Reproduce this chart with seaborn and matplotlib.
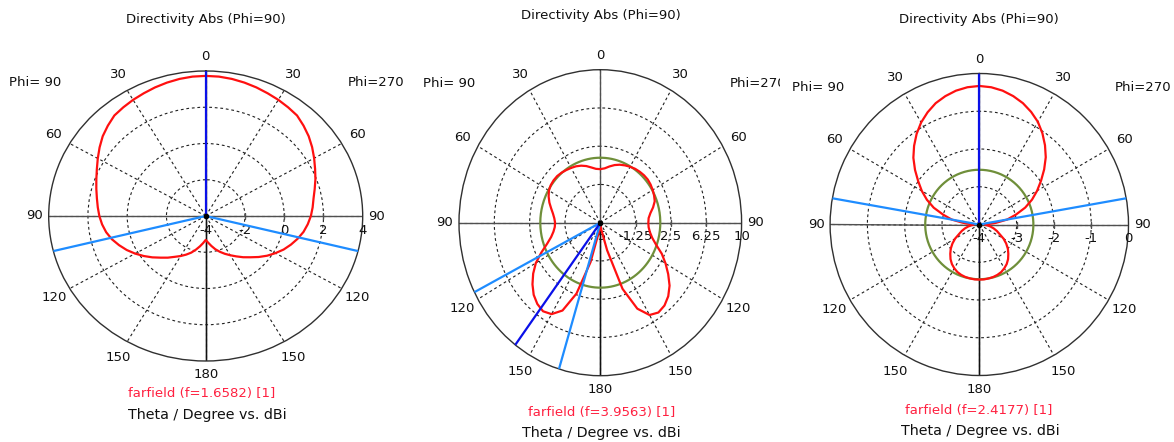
import numpy as np
import pandas as pd
import matplotlib
matplotlib.use("Agg")
import matplotlib.pyplot as plt
from matplotlib.transforms import offset_copy
import seaborn as sns

# ---------------------------------------------------------------- data
# Theta cut (Phi=90 on the left half, Phi=270 on the right half), dBi
theta_deg = np.arange(0, 181, 5)

f1_phi90 = [3.73, 3.72, 3.68, 3.62, 3.55, 3.47, 3.40, 3.32, 3.24, 3.05,
            2.85, 2.60, 2.35, 2.12, 1.93, 1.77, 1.63, 1.52, 1.42, 1.30,
            1.15, 0.95, 0.70, 0.44, 0.15, -0.15, -0.45, -0.75, -1.00, -1.25,
            -1.45, -1.65, -1.85, -2.08, -2.30, -2.50, -2.68]
f1_phi270 = [3.73, 3.72, 3.68, 3.62, 3.55, 3.47, 3.40, 3.32, 3.24, 3.05,
             2.85, 2.62, 2.38, 2.15, 1.95, 1.75, 1.58, 1.47, 1.36, 1.22,
             1.06, 0.85, 0.62, 0.38, 0.10, -0.18, -0.48, -0.78, -1.03, -1.28,
             -1.50, -1.70, -1.90, -2.10, -2.32, -2.52, -2.68]

f2_phi90 = [0.25, 0.30, 0.50, 0.75, 0.95, 1.10, 1.20, 1.30, 1.40, 1.47,
            1.47, 1.42, 1.30, 1.05, 0.75, 0.40, 0.10, -0.10, -0.20, -0.15,
            0.05, 0.40, 1.00, 1.90, 2.90, 3.70, 4.40, 5.00, 5.40, 5.60,
            5.35, 4.50, 2.40, -1.00, -4.00, -4.60, -4.70]
f2_phi270 = [0.25, 0.35, 0.60, 0.85, 1.05, 1.20, 1.33, 1.45, 1.52, 1.57,
             1.58, 1.52, 1.42, 1.30, 1.15, 0.80, 0.40, 0.15, 0.10, 0.15,
             0.35, 0.70, 1.30, 2.20, 3.00, 3.80, 4.60, 5.20, 5.60, 5.75,
             5.45, 4.30, 1.90, -2.20, -4.20, -4.60, -4.70]

f3_phi90 = [-0.33, -0.35, -0.40, -0.48, -0.58, -0.72, -0.88, -1.07, -1.28, -1.50,
            -1.75, -2.00, -2.22, -2.45, -2.70, -3.00, -3.25, -3.60, -3.85, -3.80,
            -3.70, -3.60, -3.50, -3.40, -3.25, -3.12, -3.00, -2.90, -2.80, -2.72,
            -2.66, -2.61, -2.58, -2.56, -2.55, -2.54, -2.54]
f3_phi270 = [-0.33, -0.35, -0.40, -0.48, -0.58, -0.71, -0.86, -1.05, -1.26, -1.48,
             -1.73, -1.98, -2.21, -2.44, -2.69, -2.98, -3.24, -3.58, -3.85, -3.80,
             -3.70, -3.60, -3.50, -3.40, -3.25, -3.12, -3.00, -2.90, -2.80, -2.72,
             -2.66, -2.61, -2.58, -2.56, -2.55, -2.54, -2.54]

frequencies = ["1.6582", "3.9563", "2.4177"]

radial_ticks = [[-4, -2, 0, 2, 4],
                [-5, -1.25, 2.5, 6.25, 10],
                [-4, -3, -2, -1, 0]]
radial_labels = [["-4", "-2", "0", "2", "4"],
                 ["-5", "-1.25", "2.5", "6.25", "10"],
                 ["-4", "-3", "-2", "-1", "0"]]

# main lobe direction and 3 dB angular width edges (theta, side)
main_lobe = [(0, "phi90"), (143, "phi90"), (0, "phi90")]
width_edges = [[(104, "phi90"), (104, "phi270")],
               [(117, "phi90"), (163, "phi90")],
               [(80, "phi90"), (80, "phi270")]]
# side lobe level circle (None where absent)
side_lobe_level = [None, 1.37, -2.55]

angle_ticks = np.arange(0, 360, 30)
angle_labels = [str(a if a <= 180 else 360 - a) for a in angle_ticks]

# ---------------------------------------------------------------- layout
W, H = 1174, 442
panels = [
    dict(curves=(f1_phi90, f1_phi270), center=(205.7, 216.0), rx=157.0, ry=145.0,
         region=(0, 410), title=(206, 20), phi90=(9, 83), phi270=(348, 83),
         ff=(202, 394), axis_txt=(207, 415)),
    dict(curves=(f2_phi90, f2_phi270), center=(600.3, 222.7), rx=141.3, ry=153.0,
         region=(400, 780), title=(600.5, 15.5), phi90=(422.7, 83.3), phi270=(730, 83.3),
         ff=(601.3, 412.3), axis_txt=(601.7, 432.7)),
    dict(curves=(f3_phi90, f3_phi270), center=(979.3, 224.5), rx=149.2, ry=151.0,
         region=(780, 1174), title=(979.2, 20), phi90=(791.7, 87.3), phi270=(1115, 87.3),
         ff=(978.3, 410.7), axis_txt=(980, 431)),
]

RED = "#ff1010"
DARK_BLUE = "#0a10e8"
LIGHT_BLUE = "#1e8cff"
GREEN = "#6f8f3a"
GRID = "#202020"
AXIS = "#505050"
TXT = "#101010"
FS = 9.5
FS_AXIS = 10.3

sns.set_theme(style="white")
plt.rcParams["font.family"] = ["DejaVu Sans"]

fig = plt.figure(figsize=(W / 100, H / 100), dpi=100)
fig.patch.set_facecolor("white")


def side_angle(theta, side):
    """Map a theta angle on one half of the cut to the polar axis angle."""
    return np.deg2rad(theta if side == "phi90" else 360 - theta)


for i, p in enumerate(panels):
    # text frame in pixel coordinates, clipped to the panel's strip
    x0, x1 = p["region"]
    fa = fig.add_axes([x0 / W, 0, (x1 - x0) / W, 1])
    fa.set_xlim(x0, x1)
    fa.set_ylim(H, 0)
    fa.axis("off")
    fa.text(*p["title"], "Directivity Abs (Phi=90)", ha="center", va="center",
            fontsize=FS, color=TXT, clip_on=True)
    fa.text(*p["phi90"], "Phi= 90", ha="left", va="center", fontsize=FS,
            color=TXT, clip_on=True)
    fa.text(*p["phi270"], "Phi=270", ha="left", va="center", fontsize=FS,
            color=TXT, clip_on=True)
    fa.text(*p["ff"], f"farfield (f={frequencies[i]}) [1]", ha="center",
            va="center", fontsize=FS, color="#ff2040", clip_on=True)
    fa.text(*p["axis_txt"], "Theta / Degree vs. dBi", ha="center", va="center",
            fontsize=FS_AXIS, color=TXT, clip_on=True)

    # polar axes stretched to the ellipse of the original plot window
    cx, cy = p["center"]
    rx, ry = p["rx"], p["ry"]
    rect = [(cx - rx) / W, (H - cy - ry) / H, 2 * rx / W, 2 * ry / H]
    ax = fig.add_axes(rect, projection="polar")
    ax.set_aspect("auto")
    ax.set_theta_zero_location("N")
    ax.set_theta_direction(1)
    ticks = radial_ticks[i]
    rmin, rmax = ticks[0], ticks[-1]
    ax.set_rlim(rmin, rmax)
    ax.patch.set_alpha(0)

    ax.set_xticks(np.deg2rad(angle_ticks))
    ax.set_xticklabels([])
    ax.set_yticks(ticks[1:-1])
    ax.set_yticklabels([])
    ax.grid(True, color=GRID, lw=0.8, ls=(0, (2.5, 2.5)))
    ax.spines["polar"].set_color("#303030")
    ax.spines["polar"].set_linewidth(1.0)

    # solid axis cross
    for a in (0, 90, 180, 270):
        ax.plot([np.deg2rad(a)] * 2, [rmin, rmax], color=AXIS, lw=1.0, zorder=2)
    ax.plot([np.deg2rad(180)] * 2, [rmin, rmax], color="#111111", lw=1.0, zorder=2)

    # tick marks and values along the right horizontal axis
    ax.plot(np.full(len(ticks) - 2, np.deg2rad(270)), ticks[1:-1], ls="none",
            marker="|", ms=5, mew=1.0, color=AXIS, zorder=3)
    for r, lab in zip(ticks, radial_labels[i]):
        tr = offset_copy(ax.transData, fig=fig, x=0, y=-14, units="dots")
        ax.text(np.deg2rad(270), r, lab, transform=tr, ha="center", va="center",
                fontsize=FS, color=TXT, zorder=3)

    # angle labels around the circle
    for a, lab in zip(angle_ticks, angle_labels):
        ar = np.deg2rad(a)
        d = 14 + 5 * abs(np.sin(2 * ar))
        tr = offset_copy(ax.transData, fig=fig, x=-d * np.sin(ar),
                         y=d * np.cos(ar), units="dots")
        ax.text(ar, rmax, lab, transform=tr, ha="center", va="center",
                fontsize=FS, color=TXT)

    # side lobe level
    if side_lobe_level[i] is not None:
        circ = np.linspace(0, 2 * np.pi, 361)
        ax.plot(circ, np.full_like(circ, side_lobe_level[i]), color=GREEN,
                lw=1.6, zorder=4)

    # directivity pattern
    left, right = p["curves"]
    ang = np.concatenate([np.deg2rad(theta_deg), np.deg2rad(360 - theta_deg[::-1])])
    val = np.clip(np.concatenate([left, right[::-1]]), rmin, rmax)
    df = pd.DataFrame({"angle": ang, "dbi": val})
    sns.lineplot(data=df, x="angle", y="dbi", sort=False, estimator=None,
                 color=RED, lw=1.6, ax=ax, zorder=5)
    ax.set_xlabel("")
    ax.set_ylabel("")

    # 3 dB width edges and main lobe direction
    for th, side in width_edges[i]:
        ax.plot([side_angle(th, side)] * 2, [rmin, rmax], color=LIGHT_BLUE,
                lw=1.6, zorder=6)
    th, side = main_lobe[i]
    ax.plot([side_angle(th, side)] * 2, [rmin, rmax], color=DARK_BLUE,
            lw=1.6, zorder=7)
    ax.plot([0], [rmin], marker="o", ms=3, color="black", zorder=8)

fig.savefig("out.png", dpi=100, facecolor="white")
